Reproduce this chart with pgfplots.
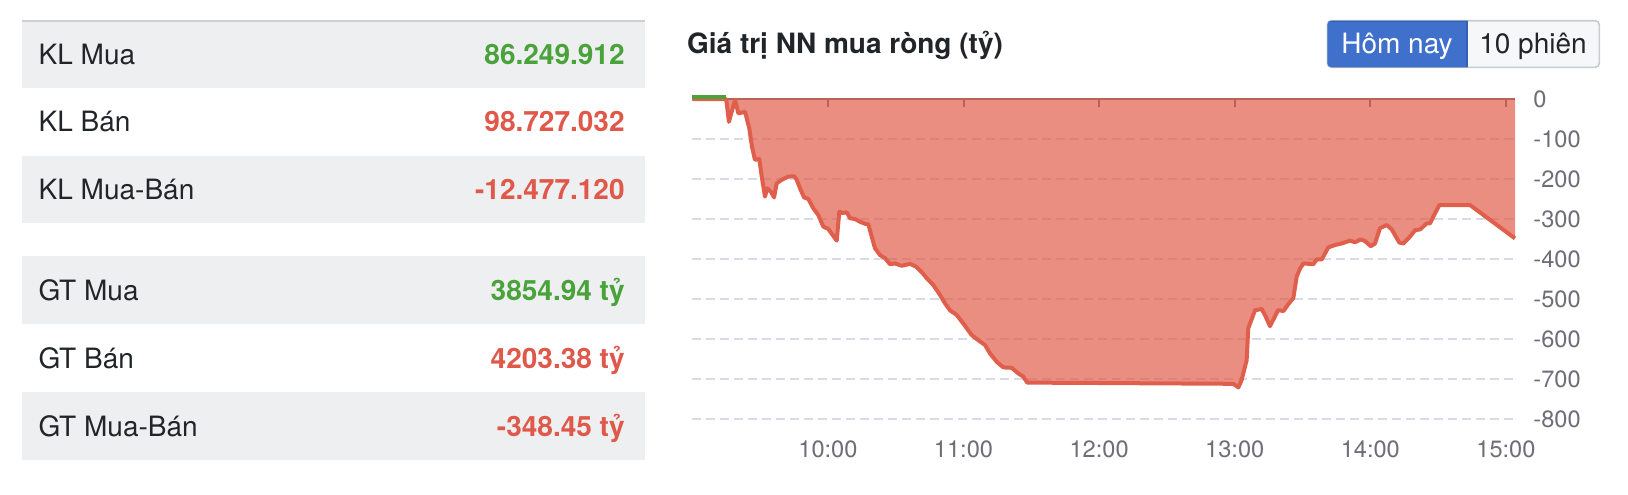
\documentclass[border=0pt]{standalone}
\usepackage{pgfplots}
\pgfplotsset{compat=1.18}
\usepackage{pgfplotstable}
\usepackage{fontspec}
\setmainfont{TeX Gyre Heros}

\definecolor{redline}{RGB}{223,94,76}
\definecolor{greenline}{RGB}{74,163,58}
\definecolor{redtext}{RGB}{224,88,74}
\definecolor{greentext}{RGB}{74,163,58}
\definecolor{darktext}{RGB}{33,37,41}
\definecolor{axisgray}{RGB}{110,110,120}
\definecolor{gridc}{RGB}{214,218,233}
\definecolor{tickc}{RGB}{96,107,116}
\definecolor{topc}{RGB}{185,98,88}
\definecolor{rowgray}{RGB}{238,239,241}
\definecolor{rowline}{RGB}{208,208,210}
\definecolor{btnblue}{RGB}{63,112,204}
\definecolor{btnblueb}{RGB}{52,96,182}
\definecolor{btngray}{RGB}{246,247,249}
\definecolor{btngrayb}{RGB}{200,203,208}

\newcommand\rowfont{\fontsize{14}{17}\selectfont}

% gia tri NN mua rong (ty), gio -> ty dong
\pgfplotstableread{
t v
9.000 0
9.250 0
9.270 -57
9.315 -2
9.340 -36
9.389 -32
9.420 -73
9.440 -119
9.462 -152
9.494 -150
9.512 -194
9.536 -244
9.553 -223
9.580 -232
9.603 -246
9.622 -211
9.659 -202
9.708 -194
9.752 -193
9.770 -202
9.794 -223
9.824 -246
9.856 -250
9.892 -273
9.929 -290
9.966 -319
10.003 -325
10.035 -340
10.065 -354
10.084 -282
10.109 -285
10.139 -283
10.163 -298
10.200 -300
10.237 -307
10.274 -312
10.298 -313
10.323 -344
10.347 -373
10.384 -390
10.421 -398
10.458 -413
10.495 -411
10.544 -417
10.605 -412
10.650 -419
10.692 -433
10.729 -448
10.777 -465
10.827 -490
10.864 -511
10.900 -528
10.950 -540
10.998 -561
11.060 -590
11.109 -603
11.159 -615
11.195 -636
11.245 -657
11.294 -671
11.355 -672
11.404 -686
11.441 -694
11.470 -709
12.000 -710
12.500 -711
12.990 -712
13.027 -721
13.051 -703
13.075 -670
13.088 -653
13.100 -573
13.150 -528
13.200 -525
13.230 -545
13.260 -568
13.290 -548
13.320 -528
13.360 -530
13.395 -513
13.432 -498
13.457 -444
13.480 -425
13.506 -411
13.580 -413
13.605 -401
13.642 -401
13.690 -371
13.740 -365
13.790 -361
13.850 -354
13.887 -358
13.930 -351
13.960 -355
14.003 -368
14.035 -361
14.071 -323
14.121 -315
14.158 -326
14.214 -359
14.243 -361
14.293 -344
14.330 -328
14.367 -326
14.416 -311
14.440 -311
14.477 -286
14.509 -265
14.735 -265
15.067 -348.45
}\nnnet

\begin{document}
\begin{tikzpicture}
\begin{scope}[x=0.5pt, y=-0.5pt]
\useasboundingbox (0,0) rectangle (1628,494);
% bang thong ke
\fill[rowgray] (22,20.7) rectangle (645,87.7);
\fill[rowgray] (22,155.7) rectangle (645,223.3);
\fill[rowgray] (22,256) rectangle (645,324);
\fill[rowgray] (22,392.3) rectangle (645,460);
\draw[rowline, line width=0.85pt] (22,20.7) -- (645,20.7);
\begin{scope}[every node/.style={inner sep=0pt, font=\rowfont}]
\node[anchor=base west, text=darktext] at (38.3,64.3) {KL Mua};
\node[anchor=base west, text=darktext] at (38.3,131.7) {KL Bán};
\node[anchor=base west, text=darktext] at (38.3,199.5) {KL Mua-Bán};
\node[anchor=base west, text=darktext] at (38.3,300) {GT Mua};
\node[anchor=base west, text=darktext] at (38.3,368.2) {GT Bán};
\node[anchor=base west, text=darktext] at (38.3,436.2) {GT Mua-Bán};
\node[anchor=base east, text=greentext, font=\rowfont\bfseries] at (625,64.3) {86.249.912};
\node[anchor=base east, text=redtext, font=\rowfont\bfseries] at (625,131.7) {98.727.032};
\node[anchor=base east, text=redtext, font=\rowfont\bfseries] at (625,199.5) {-12.477.120};
\node[anchor=base east, text=greentext, font=\rowfont\bfseries] at (625,300) {3854.94 tỷ};
\node[anchor=base east, text=redtext, font=\rowfont\bfseries] at (625,368.2) {4203.38 tỷ};
\node[anchor=base east, text=redtext, font=\rowfont\bfseries] at (625,436.2) {-348.45 tỷ};
% tieu de
\node[anchor=base west, text=darktext, font=\rowfont\bfseries] at (686.7,53.3) {Giá trị NN mua ròng (tỷ)};
\end{scope}
% nut chon
\draw[fill=btngray, draw=btngrayb, line width=0.8pt, rounded corners=2pt] (1327.3,20.7) rectangle (1599.3,67.3);
\begin{scope}
\clip[rounded corners=2pt] (1327.3,20.7) rectangle (1599.3,67.3);
\draw[fill=btnblue, draw=btnblueb, line width=0.8pt] (1326,20.7) rectangle (1466.7,67.3);
\end{scope}
\node[anchor=base, inner sep=0pt, font=\rowfont, text=white] at (1397,53.3) {Hôm nay};
\node[anchor=base, inner sep=0pt, font=\rowfont, text=darktext] at (1533,53.3) {10 phiên};
\end{scope}

\begin{axis}[
  at={(346.15pt,-209.5pt)}, anchor=south west,
  scale only axis, width=411.35pt, height=160pt,
  xmin=9, xmax=15.067, ymin=-800, ymax=0,
  clip=false,
  axis line style={draw=none},
  xtick={10,11,12,13,14,15},
  xticklabels={10:00,11:00,12:00,13:00,14:00,15:00},
  xtick pos=upper, xticklabel pos=lower,
  tick align=inside,
  major tick length=4pt,
  xtick style={draw=tickc, line width=1pt},
  ytick={-800,-700,...,0},
  yticklabels={-800,-700,-600,-500,-400,-300,-200,-100,0},
  yticklabel pos=right,
  ytick style={draw=none},
  ymajorgrids,
  grid style={draw=gridc, line width=0.9pt, dash pattern=on 4.5pt off 2.5pt},
  tick label style={font=\fontsize{11.8}{14}\selectfont, text=axisgray, inner sep=0pt},
  xticklabel style={anchor=north, yshift=-10.5pt},
  yticklabel style={anchor=west, xshift=9pt},
]
\addplot[draw=none, fill=redline, fill opacity=0.7] table[x=t, y=v] {\nnnet} \closedcycle;
\draw[topc, line width=1pt] (axis cs:9,0) -- (axis cs:15.067,0);
\addplot[redline, line width=2pt, line join=round] table[x=t, y=v] {\nnnet};
\addplot[greenline, line width=2pt] coordinates {(9,4) (9.25,4)};
\end{axis}
\end{tikzpicture}
\end{document}
